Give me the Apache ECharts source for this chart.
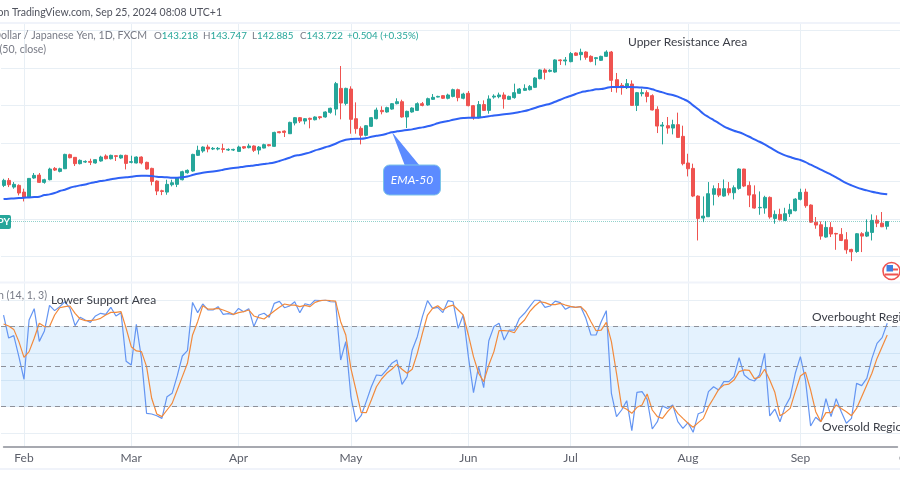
<!DOCTYPE html>
<html>
<head>
<meta charset="utf-8">
<style>
  html, body { margin: 0; padding: 0; background: #fff; }
  #chart { width: 900px; height: 500px; }
</style>
<script src="https://cdn.jsdelivr.net/npm/echarts@6/dist/echarts.min.js"></script>
</head>
<body>
<div id="chart"></div>
<script>
// USD/JPY daily, values
const opens = [
  147.55,148.08,147.37,147.55,146.84,146.31,148.33,148.64,147.87,148.15,
  149.35,149.03,149.31,150.8,150.52,149.85,150.02,150.09,149.92,150.13,
  150.66,150.37,150.69,150.45,150.73,149.99,149.92,150.55,149.99,149.35,
  148.01,146.98,146.84,147.62,147.66,148.15,148.89,149.07,150.73,151.19,
  151.61,151.4,151.4,151.43,151.29,151.29,151.15,151.65,151.54,151.72,
  151.29,151.5,151.86,151.68,153.23,153.3,153.02,154.15,154.72,154.36,
  154.65,154.5,154.82,154.79,155.28,155.63,157.82,156.23,157.75,154.61,
  153.59,152.85,153.8,154.61,155.49,155.32,155.63,156.2,156.41,154.79,
  155.32,155.49,156.2,156.06,156.66,156.9,157.05,156.77,156.97,157.68,
  156.77,157.3,155.99,154.72,156.1,155.49,156.9,156.94,157.12,156.66,
  156.84,157.3,157.61,157.68,157.93,158.85,159.77,159.62,159.55,160.83,
  160.72,160.65,161.57,161.39,161.67,161.21,160.97,160.79,161.21,161.67,
  158.74,158.14,157.89,158.28,156.02,157.26,157.37,157.05,155.6,153.83,
  153.87,153.62,153.98,152.74,149.92,149.35,146.42,144.09,144.23,146.6,
  147.2,146.42,147.2,146.77,147.23,149.28,147.55,146.56,145.18,145.15,
  146.28,144.05,144.48,143.84,144.55,144.87,146.07,146.84,145.47,143.66,
  143.38,142.08,143.1,142.46,142.36,141.79,140.77,140.55,142.43,142.18,
  142.57,143.87,143.55,143.218
]
const closes = [
  148.08,147.62,147.66,146.74,146.31,148.29,148.61,147.87,148.15,149.28,
  149.17,149.31,150.83,150.48,149.85,150.2,150.09,149.99,150.27,150.55,
  150.37,150.73,150.62,150.73,149.88,150.06,150.55,149.92,149.28,147.97,
  146.95,146.91,147.66,147.83,148.33,149.0,149.14,150.83,151.26,151.61,
  151.4,151.47,151.47,151.36,151.36,151.36,151.61,151.5,151.72,151.26,
  151.61,151.86,151.75,153.16,153.13,153.16,154.22,154.72,154.36,154.61,
  154.54,154.79,154.72,155.32,155.71,158.32,156.27,157.82,154.54,153.55,
  152.85,153.87,154.72,155.53,155.35,155.78,156.2,156.41,154.79,155.39,
  155.74,156.2,156.02,156.73,156.87,156.97,156.77,157.12,157.68,156.84,
  157.22,155.99,154.72,156.1,155.49,156.7,157.0,157.12,156.7,156.97,
  157.37,157.75,157.82,158.03,158.92,159.77,159.52,159.73,160.83,160.75,
  160.83,161.5,161.32,161.64,161.11,160.68,161.07,161.21,161.67,158.67,
  157.89,157.89,158.32,156.02,157.37,157.37,156.97,155.53,153.83,153.94,
  153.62,153.98,152.63,149.85,149.31,146.42,144.05,144.3,146.67,147.2,
  146.52,147.2,146.77,147.3,149.28,147.48,146.52,145.15,145.22,146.28,
  144.2,144.48,143.91,144.55,144.97,146.1,146.81,145.4,143.66,143.35,
  142.18,143.1,142.4,142.4,141.72,140.73,140.52,142.43,142.18,142.6,
  143.84,143.55,143.17,143.722
]
const lows = [
  147.37,147.37,147.2,146.49,145.85,146.24,148.25,147.8,147.73,148.08,
  149.07,148.93,149.28,150.41,149.6,149.77,149.92,149.7,149.85,150.06,
  150.3,150.3,150.13,150.37,149.24,149.88,149.88,149.77,149.21,147.55,
  146.52,146.52,146.56,147.44,147.37,148.08,148.79,149.0,150.66,151.01,
  151.05,151.29,151.26,151.01,151.19,151.19,151.11,151.4,151.47,151.08,
  150.83,151.47,151.68,151.65,153.06,152.67,152.99,153.9,154.15,154.01,
  153.59,154.43,154.54,154.72,155.14,154.96,154.54,156.02,153.02,153.02,
  151.89,152.74,153.73,154.54,155.07,155.25,155.56,156.13,154.72,153.62,
  155.25,155.42,155.92,155.99,156.59,156.87,156.7,156.66,156.87,156.45,
  156.66,155.92,154.5,154.65,155.42,155.14,156.73,156.77,155.67,156.6,
  156.73,157.25,157.54,157.6,157.86,158.78,158.74,159.52,159.48,160.3,
  160.26,160.58,161.25,160.79,160.86,160.58,160.26,160.72,161.14,157.44,
  157.37,157.15,157.75,155.99,155.42,156.97,156.34,155.49,153.09,151.89,
  153.02,152.95,152.6,149.67,148.5,146.31,141.72,143.66,144.2,145.43,
  146.31,146.35,146.49,146.07,147.09,147.37,145.25,145.08,144.44,144.55,
  144.02,143.49,143.84,143.8,144.2,144.8,145.96,145.18,143.6,142.96,
  141.8,142.01,142.08,140.73,141.65,140.31,139.53,140.41,140.49,142.08,
  141.72,143.13,143.13,142.885
]
const highs = [
  148.25,148.33,147.9,147.66,147.2,148.33,148.86,148.86,148.25,149.42,
  149.49,149.42,150.9,150.9,150.55,150.3,150.2,150.37,150.3,150.69,
  150.83,150.8,150.73,150.8,150.8,150.69,150.62,150.62,150.06,149.42,
  148.08,147.09,148.15,148.15,148.4,149.1,149.24,150.9,151.75,151.68,
  151.86,151.61,151.61,151.96,151.47,151.43,151.75,151.72,151.96,151.79,
  151.72,151.96,151.93,153.23,153.3,153.37,154.29,154.79,154.79,154.68,
  154.72,154.86,154.86,155.39,155.78,158.5,160.19,157.89,158.04,156.34,
  153.8,153.94,154.79,155.78,155.92,155.88,156.27,156.77,156.62,155.46,
  155.81,156.34,156.38,156.84,157.22,157.04,157.11,157.26,157.79,157.79,
  157.36,157.54,156.06,156.48,156.55,157.08,157.19,157.37,157.4,157.05,
  158.32,157.86,158.25,158.17,159.0,159.84,159.94,159.84,160.9,160.9,
  161.14,161.67,161.64,162.02,161.74,161.32,161.14,161.28,161.85,161.78,
  159.45,158.39,158.81,158.67,157.44,157.79,157.61,157.19,155.92,154.26,
  154.79,154.5,155.25,153.87,150.9,149.85,146.49,146.38,147.9,147.55,
  147.8,148.18,147.9,147.55,149.35,149.31,147.97,147.55,146.91,146.45,
  146.38,144.9,145.08,145.18,145.6,146.2,147.2,147.2,145.54,144.2,
  143.73,143.77,143.66,142.53,143.03,142.6,140.84,142.5,142.6,143.95,
  144.48,144.38,144.73,143.747
]
const ema50 = [
  146.10,146.14,146.17,146.21,146.24,146.28,146.31,146.35,146.53,146.60,
  146.74,146.95,147.09,147.30,147.44,147.55,147.65,147.79,147.90,148.01,
  148.08,148.19,148.29,148.36,148.40,148.47,148.54,148.57,148.57,148.54,
  148.47,148.43,148.40,148.36,148.36,148.40,148.50,148.64,148.78,148.89,
  148.96,149.03,149.10,149.21,149.32,149.38,149.45,149.53,149.60,149.66,
  149.74,149.81,149.88,149.98,150.13,150.30,150.48,150.69,150.76,150.90,
  151.04,151.26,151.40,151.58,151.75,151.96,152.21,152.38,152.45,152.49,
  152.49,152.56,152.70,152.81,152.88,153.02,153.17,153.27,153.34,153.41,
  153.48,153.59,153.69,153.80,153.94,154.12,154.26,154.36,154.50,154.61,
  154.68,154.72,154.72,154.72,154.79,154.86,154.96,155.00,155.07,155.14,
  155.21,155.32,155.42,155.57,155.74,155.92,156.06,156.20,156.41,156.62,
  156.84,157.01,157.22,157.40,157.51,157.61,157.72,157.75,157.86,157.97,
  157.97,157.97,157.97,157.97,157.93,157.90,157.86,157.72,157.54,157.40,
  157.22,157.12,156.94,156.70,156.45,156.02,155.60,155.14,154.79,154.47,
  154.15,153.80,153.55,153.34,153.17,152.95,152.70,152.42,152.17,151.89,
  151.58,151.26,150.97,150.73,150.55,150.37,150.23,150.02,149.74,149.49,
  149.21,148.96,148.68,148.40,148.08,147.79,147.55,147.34,147.16,147.02,
  146.88,146.77,146.67,146.60
]
const stochK = [
  88.7,71.4,73.2,57.4,40.4,85.0,93.5,68.9,76.7,96.0,
  92.0,95.0,98.7,93.7,80.7,87.0,85.0,83.2,88.0,90.0,
  89.2,94.5,88.0,90.5,53.9,51.1,81.7,56.1,14.8,14.3,
  13.0,11.0,27.3,29.8,42.9,57.9,61.9,98.2,90.5,97.0,
  92.5,92.5,95.0,89.2,89.7,89.0,93.7,91.2,93.5,80.0,
  88.7,90.0,87.0,97.5,99.0,94.2,95.5,98.7,90.5,97.2,
  96.2,100,99.5,100,98.7,98.5,54.9,68.7,27.3,8.3,
  13.0,23.6,34.8,43.6,43.1,47.4,52.4,54.9,36.6,42.4,
  62.4,72.4,87.5,99.5,93.7,94.5,90.5,99.5,98.7,78.7,
  88.7,57.4,30.3,49.9,34.1,69.4,80.0,82.5,69.9,77.4,
  77.4,86.2,90.0,95.0,100,99.7,94.5,95.5,99.2,98.0,
  93.0,95.0,94.5,95.0,86.2,73.7,73.7,83.7,92.0,29.8,
  12.3,17.3,24.3,1.8,30.6,31.1,25.3,3.0,8.5,20.3,
  18.5,21.1,8.5,3.5,7.8,0.5,14.5,16.0,31.1,34.8,
  32.3,38.6,38.6,42.4,56.6,43.6,40.4,39.1,43.6,59.9,
  12.8,18.0,8.5,19.8,26.8,44.9,57.4,39.8,5.3,11.8,
  8.5,25.8,12.3,25.8,16.0,7.3,11.0,37.3,35.6,41.1,
  56.1,67.4,71.7,82.5
]
const stochD = [
  82.0,80.5,77.9,68.7,56.9,61.2,71.2,82.5,80.0,80.0,
  88.7,94.2,95.0,95.5,90.0,85.7,84.5,84.5,85.0,86.2,
  88.7,90.7,90.7,91.2,78.7,64.9,61.7,61.2,49.9,26.1,
  14.3,12.3,17.3,22.3,32.3,42.4,52.4,73.7,83.7,95.7,
  93.2,93.2,93.7,92.5,91.0,89.2,90.5,91.2,92.5,88.0,
  86.7,85.7,88.7,91.7,94.5,97.0,96.2,96.2,95.0,96.0,
  95.0,98.2,99.5,100,99.5,99.2,83.7,73.7,48.6,32.3,
  15.5,15.3,24.8,34.8,40.6,44.9,47.9,51.6,47.9,44.9,
  47.9,59.9,74.9,88.7,93.7,95.7,92.5,95.0,96.2,92.5,
  88.7,73.7,57.4,44.9,38.6,51.1,61.2,76.9,76.9,76.7,
  75.4,81.2,85.0,91.2,95.5,98.7,98.0,96.5,96.5,97.5,
  96.2,95.2,94.5,95.0,91.2,83.7,76.9,77.4,83.2,68.7,
  44.9,19.8,17.8,14.8,19.3,21.1,29.3,17.3,12.3,11.0,
  16.0,20.3,14.8,11.0,7.3,4.3,7.8,11.0,19.8,26.1,
  32.8,36.1,36.8,39.8,46.1,47.4,47.1,40.9,41.9,47.9,
  39.8,30.6,13.0,15.3,18.5,31.1,42.9,45.6,32.3,16.0,
  8.5,15.3,15.3,21.1,18.5,16.0,13.0,18.5,27.3,36.1,
  44.9,56.1,64.9,73.7
]
const monthNames = ['Feb', 'Mar', 'Apr', 'May', 'Jun', 'Jul', 'Aug', 'Sep']
const monthStarts = [4, 25, 46, 68, 91, 111, 134, 156]
const lastPrice = 143.722

const FONT = 'Lato, sans-serif'
const UP = '#26a69a'
const DOWN = '#ef5350'
const GRIDLINE = '#e8eff5'
const GAP = '#f0f3fa'
const TEXT = '#3a3d46'
const MUTED = '#787b86'

// two empty slots on the right, like the chart's own margin
const slots = opens.map((_, i) => i).concat([174, 175])
const candles = opens.map((o, i) => [o, closes[i], lows[i], highs[i]])
const monthLabel = i => {
  const at = monthStarts.indexOf(Number(i))
  return at < 0 ? '' : monthNames[at]
}

function label(x, y, text, opts) {
  return {
    type: 'text', x, y, silent: true, z: 20,
    style: Object.assign({ text, fill: TEXT, font: '12px ' + FONT, textVerticalAlign: 'middle' }, opts)
  }
}
function ohlc(x, key, value) {
  return {
    type: 'text', x, y: 36, silent: true, z: 20,
    style: {
      text: `{k|${key}}{v|${value}}`, textVerticalAlign: 'middle',
      rich: {
        k: { fill: MUTED, font: '9.8px ' + FONT },
        v: { fill: UP, font: '9.8px ' + FONT }
      }
    }
  }
}
function bar(y, h) {
  return { type: 'rect', shape: { x: 0, y, width: 900, height: h }, style: { fill: GAP }, silent: true, z: 1 }
}

const chart = echarts.init(document.getElementById('chart'))
chart.setOption({
  animation: false,
  backgroundColor: '#fff',
  grid: [
    // grid 0 only carries the month lines and labels, through both panes
    { left: 3.55, width: 893.9, top: 24, height: 422.5 },
    { left: 1, right: 0, top: 30, height: 226.7 },
    { left: 1, right: 0, top: 300, height: 133 }
  ],
  xAxis: [
    {
      gridIndex: 0, type: 'category', data: slots, boundaryGap: false,
      axisLine: { lineStyle: { color: '#8a8d96', width: 1.5 } },
      axisTick: { show: false },
      axisLabel: {
        interval: i => monthStarts.includes(i), formatter: monthLabel,
        color: '#5d606b', fontFamily: FONT, fontSize: 12, margin: 6
      },
      splitLine: { show: true, interval: i => monthStarts.includes(i), lineStyle: { color: GRIDLINE, width: 1 } }
    },
    { gridIndex: 1, type: 'category', data: slots, axisLine: { show: false }, axisTick: { show: false }, axisLabel: { show: false } },
    { gridIndex: 2, type: 'category', data: slots, axisLine: { show: false }, axisTick: { show: false }, axisLabel: { show: false } }
  ],
  yAxis: [
    { gridIndex: 0, type: 'value', show: false, splitLine: { show: false } },
    {
      gridIndex: 1, type: 'value', min: 140, max: 164, interval: 4, scale: true,
      axisLine: { show: false }, axisTick: { show: false }, axisLabel: { show: false },
      splitLine: { lineStyle: { color: GRIDLINE } }
    },
    {
      gridIndex: 2, type: 'value', min: 0, max: 100, interval: 20,
      axisLine: { show: false }, axisTick: { show: false }, axisLabel: { show: false },
      splitLine: { lineStyle: { color: GRIDLINE } }
    }
  ],
  series: [
    {
      type: 'candlestick', xAxisIndex: 1, yAxisIndex: 1, data: candles, barWidth: 3.5, clip: false,
      itemStyle: { color: UP, color0: DOWN, borderColor: UP, borderColor0: DOWN, borderWidth: 1 },
      markLine: {
        silent: true, symbol: 'none', label: { show: false },
        lineStyle: { color: UP, type: 'dotted', width: 1, opacity: 0.5 },
        data: [{ yAxis: lastPrice }]
      }
    },
    {
      type: 'line', xAxisIndex: 1, yAxisIndex: 1, data: ema50, symbol: 'none', z: 3, smooth: 0.4,
      lineStyle: { color: '#2f62f5', width: 2 }
    },
    {
      type: 'line', xAxisIndex: 2, yAxisIndex: 2, data: stochK, symbol: 'none', z: 3,
      lineStyle: { color: '#6495f2', width: 1.2 },
      markArea: {
        silent: true, itemStyle: { color: 'rgba(33,150,243,0.12)' },
        data: [[{ yAxis: 20 }, { yAxis: 80 }]]
      },
      markLine: {
        silent: true, symbol: 'none', label: { show: false },
        lineStyle: { color: '#8d9099', type: [5, 4], width: 1 },
        data: [{ yAxis: 80 }, { yAxis: 50 }, { yAxis: 20 }]
      }
    },
    {
      type: 'line', xAxisIndex: 2, yAxisIndex: 2, data: stochD, symbol: 'none', z: 4,
      lineStyle: { color: '#f28a3c', width: 1.2 }
    }
  ],
  graphic: [
    bar(22, 2), bar(281.5, 2), bar(468, 2),

    label(222, 13, 'Published on TradingView.com, Sep 25, 2024 08:08 UTC+1', { textAlign: 'right', fill: '#50535e', font: '10.5px ' + FONT }),
    label(147, 36, 'U.S. Dollar / Japanese Yen, 1D, FXCM', { textAlign: 'right', fill: MUTED, font: '10.6px ' + FONT }),
    ohlc(154, 'O', '143.218'),
    ohlc(203, 'H', '143.747'),
    ohlc(252, 'L', '142.885'),
    ohlc(300, 'C', '143.722'),
    label(347, 36, '+0.504 (+0.35%)', { fill: UP, font: '9.8px ' + FONT }),
    label(46, 50, 'EMA (50, close)', { textAlign: 'right', fill: MUTED, font: '10.6px ' + FONT }),
    label(47, 296, 'Stoch (14, 1, 3)', { textAlign: 'right', fill: MUTED, font: '10.6px ' + FONT }),

    label(628, 42, 'Upper Resistance Area'),
    label(51, 300, 'Lower Support Area'),
    label(812, 317, 'Overbought Region'),
    label(822, 427, 'Oversold Region'),
    label(899, 458, 'Oct', { fill: '#5d606b', font: '12px ' + FONT }),

    // symbol tag at the left edge
    { type: 'rect', shape: { x: -8, y: 215, width: 19, height: 14, r: 2 }, style: { fill: UP }, silent: true, z: 20 },
    label(10, 222, 'USDJPY', { textAlign: 'right', fill: '#fff', font: 'bold 10px ' + FONT }),

    // EMA-50 callout
    {
      type: 'polygon', shape: { points: [[392, 132], [405, 166], [420, 166]] },
      style: { fill: '#5c8bff' }, silent: true, z: 20
    },
    {
      type: 'rect', shape: { x: 383.5, y: 165, width: 57, height: 30, r: 6 },
      style: { fill: '#5c8bff', stroke: '#7cc4e8', lineWidth: 1 }, silent: true, z: 20
    },
    label(412, 180, 'EMA-50', { textAlign: 'center', fill: '#fff', font: 'italic 12px ' + FONT }),

    // little US flag badge
    { type: 'circle', shape: { cx: 891.5, cy: 271, r: 8.5 }, style: { fill: '#fff', stroke: '#ef5350', lineWidth: 1.6 }, silent: true, z: 20 },
    { type: 'rect', shape: { x: 885, y: 273.5, width: 13, height: 2 }, style: { fill: '#ef5350' }, silent: true, z: 21 },
    { type: 'rect', shape: { x: 892, y: 268.5, width: 6, height: 2 }, style: { fill: '#ef5350' }, silent: true, z: 21 },
    { type: 'rect', shape: { x: 886.5, y: 265, width: 6.5, height: 6.5 }, style: { fill: '#3f7fe0' }, silent: true, z: 22 }
  ]
})
</script>
</body>
</html>
